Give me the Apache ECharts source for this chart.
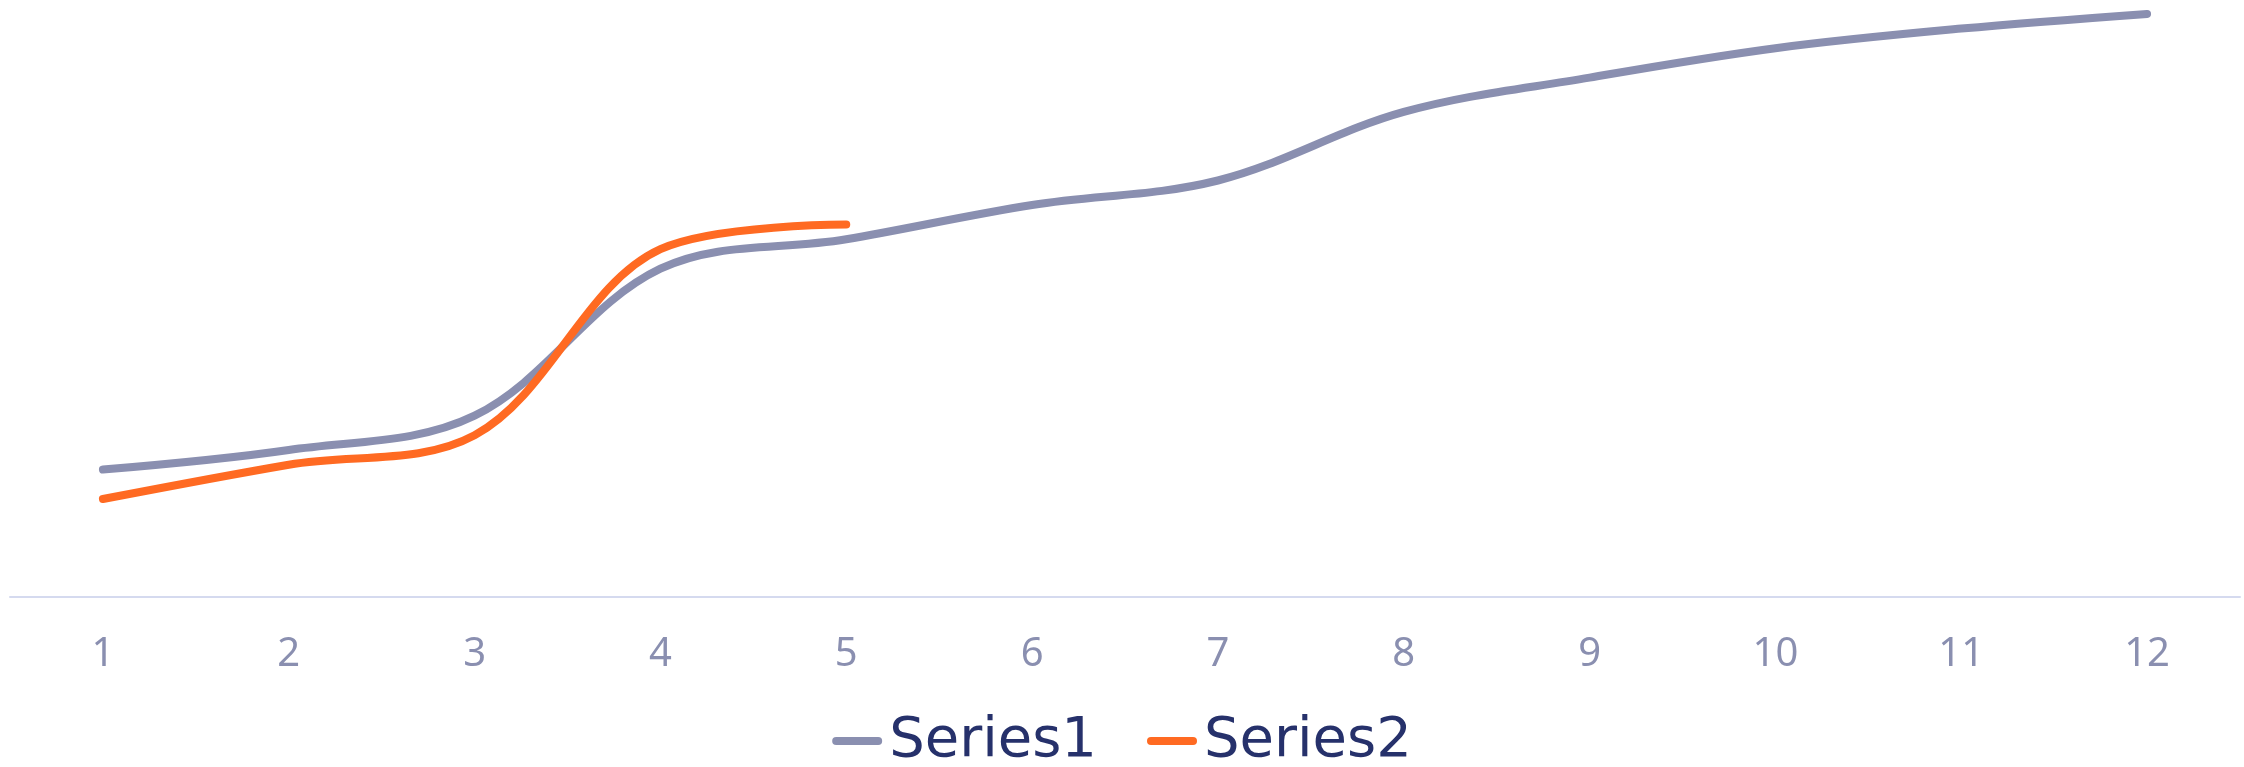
<!DOCTYPE html>
<html>
<head>
<meta charset="utf-8">
<title>Series1 / Series2</title>
<script src="https://cdn.jsdelivr.net/npm/echarts@6/dist/echarts.min.js"></script>
<style>
  html, body { margin: 0; padding: 0; background: #ffffff; }
  #chart { width: 2244px; height: 767px; }
</style>
</head>
<body>
<div id="chart"></div>
<script>
// Categories along the x axis
const categories = ['1', '2', '3', '4', '5', '6', '7', '8', '9', '10', '11', '12'];

// Series values
const series1 = [26, 30, 37, 67, 73, 80, 85, 99, 106, 112, 116, 119];
const series2 = [20, 27, 33, 71, 76];

const grey = '#8A8FB0';
const orange = '#FF6A22';
const navy = '#26316B';

const chart = echarts.init(document.getElementById('chart'), null, { renderer: 'canvas' });

// Rounded bar used as the legend marker
const legendIcon = 'path://M4,0 H46 A4,4 0 0 1 46,8 H4 A4,4 0 0 1 4,0 Z';

chart.setOption({
  animation: false,
  backgroundColor: '#ffffff',
  textStyle: { fontFamily: '"Noto Sans", "Open Sans", sans-serif' },
  grid: { left: 10, right: 4, top: 9, bottom: 170, containLabel: false },
  legend: {
    top: 708,
    left: 'center',
    itemWidth: 50,
    itemHeight: 8,
    itemGap: 50,
    icon: legendIcon,
    textStyle: { color: navy, fontSize: 56, fontFamily: '"DejaVu Sans", sans-serif', padding: [0, 0, 0, 2] },
    data: [
      { name: 'Series1', itemStyle: { color: grey } },
      { name: 'Series2', itemStyle: { color: orange } }
    ]
  },
  xAxis: {
    type: 'category',
    data: categories,
    boundaryGap: true,
    axisLine: { show: true, lineStyle: { color: '#D5DAEF', width: 2 } },
    axisTick: { show: false },
    axisLabel: { color: grey, fontSize: 40, margin: 38, fontFamily: '"Noto Sans", sans-serif' },
    splitLine: { show: false }
  },
  yAxis: {
    type: 'value',
    min: 0,
    max: 120,
    show: false,
    splitLine: { show: false }
  },
  series: [
    {
      name: 'Series1',
      type: 'line',
      data: series1,
      smooth: 0.35,
      showSymbol: false,
      symbol: 'none',
      clip: false,
      lineStyle: { color: grey, width: 8, cap: 'round', join: 'round' },
      itemStyle: { color: grey }
    },
    {
      name: 'Series2',
      type: 'line',
      data: series2,
      smooth: 0.35,
      showSymbol: false,
      symbol: 'none',
      clip: false,
      lineStyle: { color: orange, width: 8, cap: 'round', join: 'round' },
      itemStyle: { color: orange }
    }
  ]
});
</script>
</body>
</html>
